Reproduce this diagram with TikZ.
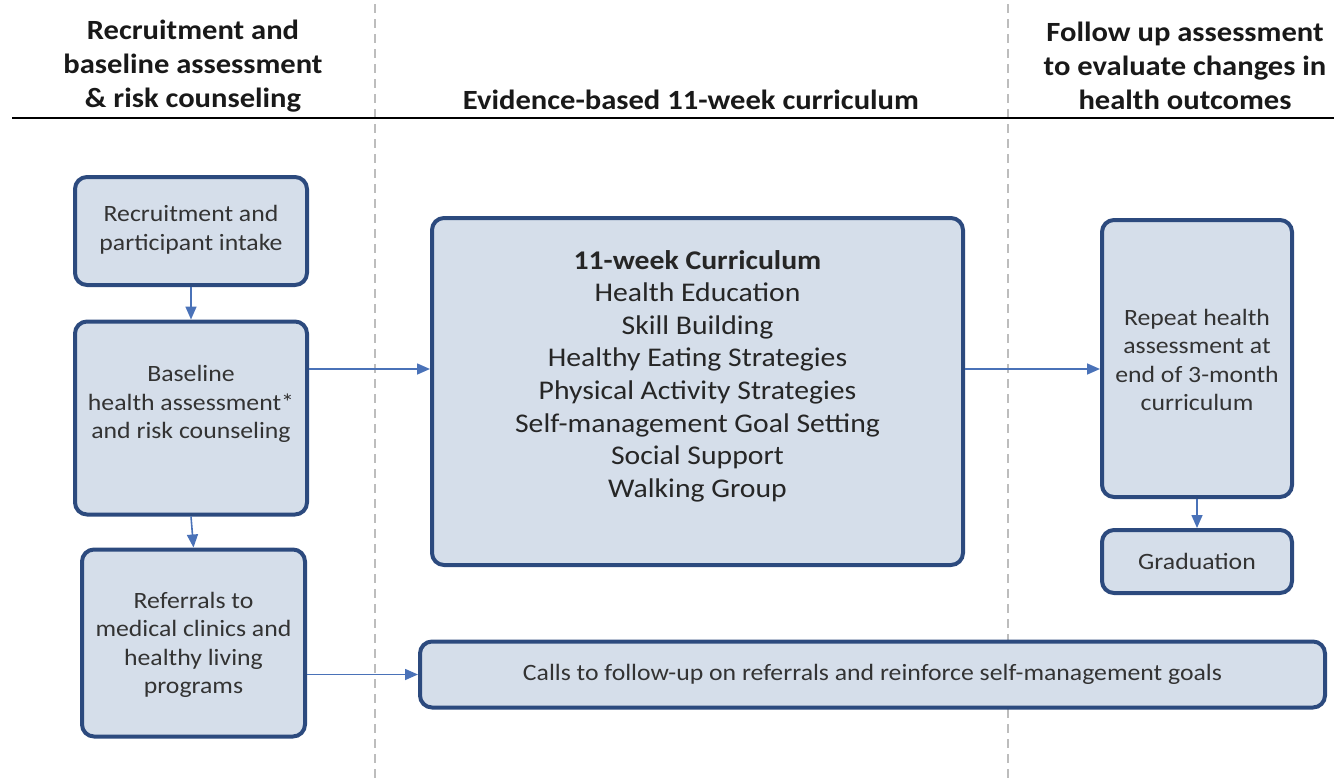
\documentclass[tikz,border=0pt]{standalone}
\usepackage{fontspec}
\setmainfont{Carlito}[FakeStretch=1.1]
\usetikzlibrary{arrows.meta}
\definecolor{boxfill}{HTML}{D5DEEA}
\definecolor{boxdraw}{HTML}{2C4A7E}
\definecolor{arrowc}{HTML}{4A72B8}
\definecolor{dashc}{HTML}{BDBDBD}
\definecolor{txtc}{HTML}{333333}
\tikzset{
  stepbox/.style={draw=boxdraw, line width=4pt, fill=boxfill, rounded corners=12pt, inner sep=0pt},
  boxtext/.style={align=center, text=txtc, font=\fontsize{23.4}{28.5}\selectfont, inner sep=0pt},
  maintext/.style={align=center, text=black!85, font=\fontsize{27}{32.6}\selectfont, inner sep=0pt},
  headtext/.style={align=center, text=black!90, font=\bfseries\fontsize{27.8}{34}\selectfont, inner sep=0pt},
  flow/.style={draw=arrowc, line width=1.6pt, -{Triangle[length=13pt,width=11pt]}},
  divider/.style={draw=dashc, line width=2.6pt, dash pattern=on 9pt off 6pt},
}
\begin{document}
\begin{tikzpicture}[x=1pt,y=-1pt]
\useasboundingbox (0,0) rectangle (1334,779);
% dividers
\coordinate (d1t) at (375,4); \coordinate (d1b) at (375,779);
\coordinate (d2t) at (1008,4); \coordinate (d2b) at (1008,779);
\draw[divider] (d1t) -- (d1b);
\draw[divider] (d2t) -- (d2b);
% header rule
\coordinate (rl) at (12,118); \coordinate (rr) at (1334,118);
\draw[black, line width=2.4pt] (rl) -- (rr);
% headers
\node[headtext] (h1) at (193,66) {Recruitment and\\baseline assessment\\\& risk counseling};
\node[headtext] (h2) at (691,100) {Evidence-based 11-week curriculum};
\node[headtext] (h3) at (1185,66) {Follow up assessment\\to evaluate changes in\\health outcomes};
% boxes
\node[stepbox, minimum width=232pt, minimum height=108pt] (b1) at (191,231) {};
\node[boxtext] (t1) at (191,230) {Recruitment and\\participant intake};
\node[stepbox, minimum width=232pt, minimum height=193pt] (b2) at (191,418) {};
\node[boxtext] (t2) at (191,404) {Baseline\\health assessment*\\and risk counseling};
\node[stepbox, minimum width=223pt, minimum height=187pt] (b3) at (193.5,643) {};
\node[boxtext] (t3) at (193.5,645) {Referrals to\\medical clinics and\\healthy living\\programs};
\node[stepbox, minimum width=531pt, minimum height=347pt] (m) at (697.5,391.5) {};
\node[maintext] (tm) at (697.5,376) {\textbf{11-week Curriculum}\\Health Education\\Skill Building\\Healthy Eating Strategies\\Physical Activity Strategies\\Self-management Goal Setting\\Social Support\\Walking Group};
\node[stepbox, minimum width=190pt, minimum height=277pt] (r) at (1197,358.5) {};
\node[boxtext] (tr) at (1197,360) {Repeat health\\assessment at\\end of 3-month\\curriculum};
\node[stepbox, minimum width=190pt, minimum height=63pt, boxtext] (g) at (1197,561.5) {Graduation};
\node[stepbox, minimum width=905pt, minimum height=66pt, boxtext] (c) at (872.5,674.5) {Calls to follow-up on referrals and reinforce self-management goals};
% connectors
\draw[flow] (b1.south) -- (b2.north);
\draw[flow] (b2.south) -- (b3.north);
\coordinate (ya) at (0,369);
\draw[flow] (b2.east |- ya) -- (m.west |- ya);
\draw[flow] (m.east |- ya) -- (r.west |- ya);
\draw[flow] (r.south) -- (g.north);
\draw[flow] (b3.east |- c.west) -- (c.west);
\end{tikzpicture}
\end{document}
